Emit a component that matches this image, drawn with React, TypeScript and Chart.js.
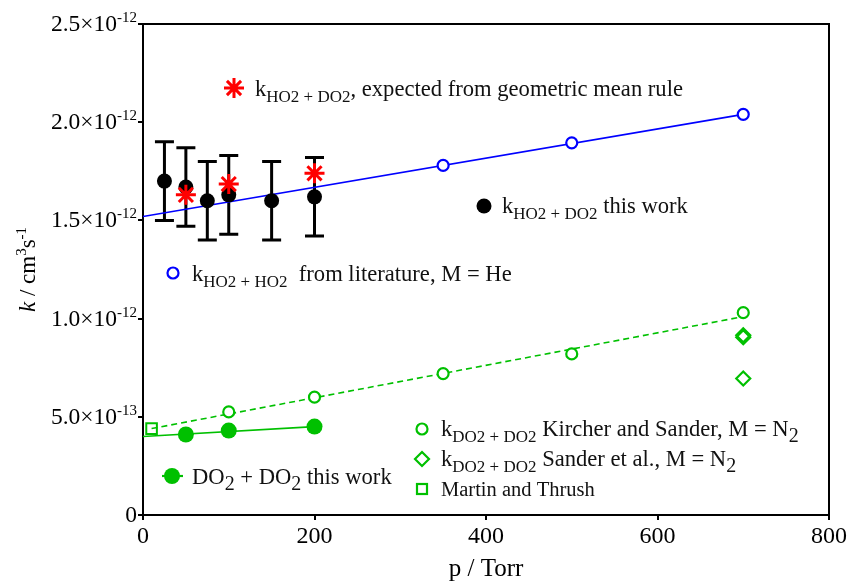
import React, { useEffect, useRef } from "react";
import { Chart, registerables } from "chart.js";

Chart.register(...registerables);

// ---- data (pressure in Torr, k in cm^3 s^-1) ----
const hdPress = [25, 50, 75, 100, 150, 200];
const hdK = [1.70e-12, 1.67e-12, 1.60e-12, 1.63e-12, 1.60e-12, 1.62e-12];
const hdErr = [0.20e-12, 0.20e-12, 0.20e-12, 0.20e-12, 0.20e-12, 0.20e-12];

const gmPress = [50, 100, 200];
const gmK = [1.63e-12, 1.685e-12, 1.74e-12];

const hhPress = [350, 500, 700];
const hhK = [1.78e-12, 1.895e-12, 2.04e-12];
const hhFitPress = [0, 700];
const hhFitK = [1.52e-12, 2.04e-12];

const ksPress = [100, 200, 350, 500, 700];
const ksK = [0.525e-12, 0.60e-12, 0.72e-12, 0.82e-12, 1.03e-12];
const ksFitPress = [10, 700];
const ksFitK = [0.44e-12, 1.01e-12];

const sdPress = [700, 700, 700];
const sdK = [0.905e-12, 0.915e-12, 0.695e-12];

const mtPress = [10];
const mtK = [0.44e-12];

const ddPress = [50, 100, 200];
const ddK = [0.41e-12, 0.43e-12, 0.45e-12];
const ddFitPress = [0, 200];
const ddFitK = [0.40e-12, 0.45e-12];

const xTickVals = [0, 200, 400, 600, 800];
const yTickVals = [0, 0.5e-12, 1.0e-12, 1.5e-12, 2.0e-12, 2.5e-12];
const yTickMant = ["0", "5.0×10", "1.0×10", "1.5×10", "2.0×10", "2.5×10"];
const yTickExp = ["", "-13", "-12", "-12", "-12", "-12"];

const BLUE = "#0000ff";
const RED = "#ff0000";
const GREEN = "#00c000";
const FONT = '"Liberation Serif", "Times New Roman", serif';
const BASE = 22.6;
const SUB = 17;

type Seg = { t: string; s?: "sub" | "sup"; it?: boolean; size?: number };

function segSize(sg: Seg, base: number) {
  return sg.size ?? (sg.s ? SUB : base);
}

function richWidth(ctx: CanvasRenderingContext2D, segs: Seg[], base: number) {
  let w = 0;
  for (const sg of segs) {
    ctx.font = `${sg.it ? "italic " : ""}${segSize(sg, base)}px ${FONT}`;
    w += ctx.measureText(sg.t).width;
  }
  return w;
}

function drawRich(ctx: CanvasRenderingContext2D, x: number, y: number, segs: Seg[], base = BASE) {
  let cx = x;
  ctx.textAlign = "left";
  ctx.textBaseline = "alphabetic";
  for (const sg of segs) {
    ctx.font = `${sg.it ? "italic " : ""}${segSize(sg, base)}px ${FONT}`;
    const dy = sg.s === "sub" ? 5.5 : sg.s === "sup" ? -9 : 0;
    ctx.fillText(sg.t, cx, y + dy);
    cx += ctx.measureText(sg.t).width;
  }
  return cx;
}

function pts(xs: number[], ys: number[]) {
  return xs.map((x, i) => ({ x, y: ys[i] }));
}

const decorPlugin = {
  id: "decor",
  beforeDatasetsDraw(chart: any) {
    const ctx: CanvasRenderingContext2D = chart.ctx;
    const xs = chart.scales.x;
    const ys = chart.scales.y;
    ctx.save();
    ctx.strokeStyle = "#000";
    ctx.lineWidth = 3;
    hdPress.forEach((p, i) => {
      const px = xs.getPixelForValue(p);
      const top = ys.getPixelForValue(hdK[i] + hdErr[i]);
      const bot = ys.getPixelForValue(hdK[i] - hdErr[i]);
      ctx.beginPath();
      ctx.moveTo(px, top);
      ctx.lineTo(px, bot);
      ctx.moveTo(px - 9.5, top);
      ctx.lineTo(px + 9.5, top);
      ctx.moveTo(px - 9.5, bot);
      ctx.lineTo(px + 9.5, bot);
      ctx.stroke();
    });
    ctx.restore();
  },
  afterDraw(chart: any) {
    const ctx: CanvasRenderingContext2D = chart.ctx;
    const a = chart.chartArea;
    const xs = chart.scales.x;
    const ys = chart.scales.y;
    ctx.save();
    // frame top / right
    ctx.strokeStyle = "#000";
    ctx.lineWidth = 2;
    ctx.beginPath();
    ctx.moveTo(a.left - 1, a.top);
    ctx.lineTo(a.right, a.top);
    ctx.lineTo(a.right, a.bottom + 1);
    ctx.stroke();

    ctx.fillStyle = "#000";
    // y tick labels
    yTickVals.forEach((v, i) => {
      const py = ys.getPixelForValue(v);
      const segs: Seg[] = [{ t: yTickMant[i] }];
      if (yTickExp[i]) segs.push({ t: yTickExp[i], s: "sup", size: 15 });
      const w = richWidth(ctx, segs, 23.5);
      drawRich(ctx, a.left - 6 - w, py + 7, segs, 23.5);
    });
    // x tick labels
    ctx.font = `24px ${FONT}`;
    ctx.textAlign = "center";
    xTickVals.forEach((v) => {
      const px = xs.getPixelForValue(v);
      ctx.fillText(String(v), px, a.bottom + 28);
    });
    // x title
    ctx.font = `25px ${FONT}`;
    ctx.fillText("p / Torr", (a.left + a.right) / 2, 576);
    // y title
    ctx.save();
    ctx.translate(35, (a.top + a.bottom) / 2);
    ctx.rotate(-Math.PI / 2);
    const yt: Seg[] = [
      { t: "k", it: true },
      { t: " / cm" },
      { t: "3", s: "sup", size: 15 },
      { t: "s" },
      { t: "-1", s: "sup", size: 15 },
    ];
    const yw = richWidth(ctx, yt, 23);
    drawRich(ctx, -yw / 2, 0, yt, 23);
    ctx.restore();

    // legend markers
    const star = (x: number, y: number) => {
      ctx.strokeStyle = RED;
      ctx.lineWidth = 3;
      ctx.beginPath();
      for (let k = 0; k < 4; k++) {
        const ang = (k * Math.PI) / 4;
        ctx.moveTo(x + 10 * Math.cos(ang), y + 10 * Math.sin(ang));
        ctx.lineTo(x - 10 * Math.cos(ang), y - 10 * Math.sin(ang));
      }
      ctx.stroke();
    };
    star(234, 88);
    ctx.fillStyle = "#000";
    ctx.beginPath();
    ctx.arc(484, 206, 7.5, 0, Math.PI * 2);
    ctx.fill();
    ctx.strokeStyle = BLUE;
    ctx.lineWidth = 2.2;
    ctx.beginPath();
    ctx.arc(173, 273, 5.5, 0, Math.PI * 2);
    ctx.stroke();
    ctx.strokeStyle = GREEN;
    ctx.beginPath();
    ctx.arc(422, 429, 5.5, 0, Math.PI * 2);
    ctx.stroke();
    ctx.beginPath();
    ctx.moveTo(422, 452);
    ctx.lineTo(429, 459);
    ctx.lineTo(422, 466);
    ctx.lineTo(415, 459);
    ctx.closePath();
    ctx.stroke();
    ctx.strokeRect(417, 484, 10, 10);
    ctx.beginPath();
    ctx.moveTo(162, 476);
    ctx.lineTo(183, 476);
    ctx.stroke();
    ctx.fillStyle = GREEN;
    ctx.beginPath();
    ctx.arc(172, 476, 8, 0, Math.PI * 2);
    ctx.fill();

    // legend texts
    ctx.fillStyle = "#111";
    drawRich(ctx, 255, 96, [{ t: "k" }, { t: "HO2 + DO2", s: "sub" }, { t: ", expected from geometric mean rule" }]);
    drawRich(ctx, 502, 213, [{ t: "k" }, { t: "HO2 + DO2", s: "sub" }, { t: " this work" }]);
    drawRich(ctx, 192, 281, [{ t: "k" }, { t: "HO2 + HO2", s: "sub" }, { t: "  from literature, M = He" }]);
    drawRich(ctx, 441, 436, [{ t: "k" }, { t: "DO2 + DO2", s: "sub" }, { t: " Kircher and Sander, M = N" }, { t: "2", s: "sub", size: 20 }]);
    drawRich(ctx, 441, 466, [{ t: "k" }, { t: "DO2 + DO2", s: "sub" }, { t: " Sander et al., M = N" }, { t: "2", s: "sub", size: 20 }]);
    drawRich(ctx, 441, 496, [{ t: "Martin and Thrush" }], 20.5);
    drawRich(ctx, 192, 484, [{ t: "DO" }, { t: "2", s: "sub", size: 20 }, { t: " + DO" }, { t: "2", s: "sub", size: 20 }, { t: " this work" }]);
    ctx.restore();
  },
};

export default function App() {
  const ref = useRef<HTMLCanvasElement | null>(null);
  useEffect(() => {
    document.body.style.margin = "0";
    const canvas = ref.current!;
    const chart = new Chart(canvas, {
      type: "scatter",
      data: {
        datasets: [
          {
            label: "geometric mean",
            data: pts(gmPress, gmK),
            pointStyle: "star",
            pointRadius: 10,
            borderWidth: 3,
            borderColor: RED,
            backgroundColor: RED,
            order: 0,
          },
          {
            label: "HO2+DO2 this work",
            data: pts(hdPress, hdK),
            pointStyle: "circle",
            pointRadius: 7.5,
            borderWidth: 0,
            backgroundColor: "#000",
            borderColor: "#000",
            order: 1,
          },
          {
            label: "DO2+DO2 this work",
            data: pts(ddPress, ddK),
            pointStyle: "circle",
            pointRadius: 8,
            borderWidth: 0,
            backgroundColor: GREEN,
            borderColor: GREEN,
            order: 2,
          },
          {
            label: "HO2+HO2 literature",
            data: pts(hhPress, hhK),
            pointStyle: "circle",
            pointRadius: 5.5,
            borderWidth: 2.2,
            borderColor: BLUE,
            backgroundColor: "#fff",
            order: 3,
          },
          {
            label: "Kircher and Sander",
            data: pts(ksPress, ksK),
            pointStyle: "circle",
            pointRadius: 5.5,
            borderWidth: 2.2,
            borderColor: GREEN,
            backgroundColor: "#fff",
            order: 4,
          },
          {
            label: "Sander et al.",
            data: pts(sdPress, sdK),
            pointStyle: "rectRot",
            pointRadius: 7,
            borderWidth: 2.2,
            borderColor: GREEN,
            backgroundColor: "rgba(255,255,255,0)",
            order: 5,
          },
          {
            label: "Martin and Thrush",
            data: pts(mtPress, mtK),
            pointStyle: "rect",
            pointRadius: 7.5,
            borderWidth: 2,
            borderColor: GREEN,
            backgroundColor: "rgba(255,255,255,0)",
            order: 6,
          },
          {
            label: "HO2 fit",
            data: pts(hhFitPress, hhFitK),
            showLine: true,
            pointRadius: 0,
            borderColor: BLUE,
            borderWidth: 1.6,
            order: 7,
          },
          {
            label: "KS fit",
            data: pts(ksFitPress, ksFitK),
            showLine: true,
            pointRadius: 0,
            borderColor: GREEN,
            borderWidth: 1.6,
            borderDash: [6, 4],
            order: 8,
          },
          {
            label: "DO2 fit",
            data: pts(ddFitPress, ddFitK),
            showLine: true,
            pointRadius: 0,
            borderColor: GREEN,
            borderWidth: 1.6,
            order: 9,
          },
        ],
      },
      options: {
        responsive: false,
        animation: false,
        layout: { padding: { left: 138, right: 19, top: 24, bottom: 61 } },
        plugins: { legend: { display: false }, tooltip: { enabled: false } },
        scales: {
          x: {
            type: "linear",
            min: 0,
            max: 800,
            ticks: { display: false, stepSize: 200 },
            grid: { drawOnChartArea: false, drawTicks: true, tickLength: 5, color: "#000", lineWidth: 2 },
            border: { display: true, color: "#000", width: 2 },
          },
          y: {
            type: "linear",
            min: 0,
            max: 2.5e-12,
            ticks: { display: false, stepSize: 0.5e-12 },
            grid: { drawOnChartArea: false, drawTicks: true, tickLength: 5, color: "#000", lineWidth: 2 },
            border: { display: true, color: "#000", width: 2 },
          },
        },
      },
      plugins: [decorPlugin],
    });
    return () => chart.destroy();
  }, []);
  return (
    <div style={{ width: 848, height: 581 }}>
      <canvas ref={ref} width={848} height={581} />
    </div>
  );
}
